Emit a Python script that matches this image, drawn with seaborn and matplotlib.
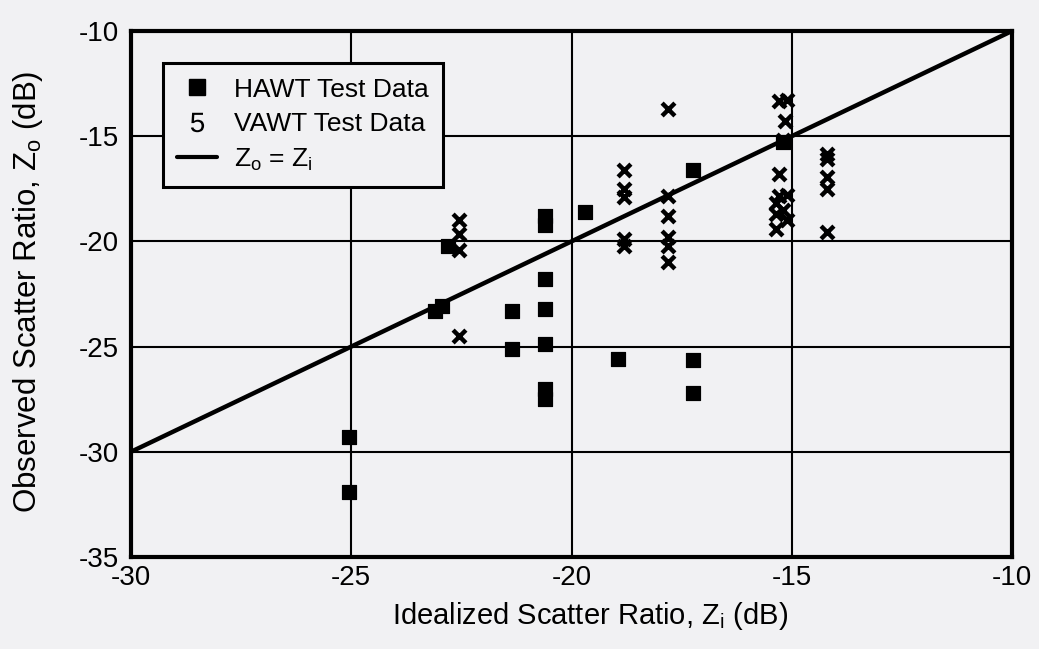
import matplotlib
matplotlib.use("Agg")
import matplotlib.pyplot as plt
from matplotlib.lines import Line2D
import seaborn as sns
import pandas as pd

# HAWT test data (idealized Zi, observed Zo) in dB
hawt_zi = [-22.8, -22.95, -23.1, -25.05, -25.05, -21.35, -21.35,
           -20.6, -20.6, -20.6, -20.6, -20.6, -20.6, -20.6,
           -19.7, -18.95, -17.25, -17.25, -17.25, -15.2]
hawt_zo = [-20.2, -23.05, -23.3, -29.3, -31.9, -23.3, -25.1,
           -18.8, -19.2, -21.8, -23.2, -24.9, -27.0, -27.5,
           -18.6, -25.6, -16.6, -25.65, -27.2, -15.3]

# VAWT test data
vawt_zi = [-22.55, -22.55, -22.55, -22.55,
           -18.8, -18.8, -18.8, -18.8, -18.8,
           -17.8, -17.8, -17.8, -17.8, -17.8, -17.8,
           -15.3, -15.1, -15.15, -15.2, -15.3, -15.3, -15.1, -15.35, -15.2, -15.35, -15.1, -15.35,
           -14.2, -14.2, -14.2, -14.2, -14.2]
vawt_zo = [-19.0, -19.65, -20.4, -24.5,
           -16.6, -17.5, -17.9, -19.9, -20.2,
           -13.7, -17.85, -18.8, -19.8, -20.2, -21.0,
           -13.35, -13.3, -14.3, -15.2, -16.8, -17.85, -17.8, -18.2, -18.5, -18.7, -19.0, -19.4,
           -15.85, -16.1, -16.95, -17.5, -19.55]

# reference line Zo = Zi
line_zi = [-30, -10]
line_zo = [-30, -10]

x_ticks = [-30, -25, -20, -15, -10]
y_ticks = [-35, -30, -25, -20, -15, -10]

sns.set_style("white")
plt.rcParams["font.family"] = ["Liberation Sans", "DejaVu Sans"]
plt.rcParams["mathtext.fontset"] = "custom"
plt.rcParams["mathtext.rm"] = "Liberation Sans"
plt.rcParams["mathtext.it"] = "Liberation Sans"
plt.rcParams["axes.unicode_minus"] = False
plt.rcParams["text.color"] = "black"
plt.rcParams["axes.labelcolor"] = "black"

bg = "#f1f1f3"
fig = plt.figure(figsize=(10.39, 6.49), dpi=100, facecolor=bg)
ax = fig.add_axes([0.1261, 0.1418, 0.848, 0.8105])
ax.set_facecolor(bg)

hawt = pd.DataFrame({"zi": hawt_zi, "zo": hawt_zo})
vawt = pd.DataFrame({"zi": vawt_zi, "zo": vawt_zo})

sns.lineplot(x=line_zi, y=line_zo, color="black", linewidth=3.2, ax=ax, zorder=3)
sns.scatterplot(data=hawt, x="zi", y="zo", marker="s", s=115, color="black",
                edgecolor="black", ax=ax, zorder=4)
sns.scatterplot(data=vawt, x="zi", y="zo", marker="x", s=85, color="black",
                linewidth=3.2, ax=ax, zorder=4)

ax.set_xlim(-30, -10)
ax.set_ylim(-35, -10)
ax.set_xticks(x_ticks)
ax.set_yticks(y_ticks)
ax.grid(True, color="black", linewidth=1.5)
ax.set_axisbelow(True)
for s in ax.spines.values():
    s.set_color("black")
    s.set_linewidth(3)
ax.tick_params(axis="both", length=0, labelsize=20, colors="black")
ax.tick_params(axis="y", pad=9)
ax.tick_params(axis="x", pad=6)

ax.set_xlabel("Idealized Scatter Ratio, Z$_{\\rm i}$ (dB)", fontsize=21)
ax.set_ylabel("Observed Scatter Ratio, Z$_{\\rm o}$ (dB)", fontsize=22.5)
ax.xaxis.set_label_coords(0.521, -0.082)
ax.yaxis.set_label_coords(-0.098, 0.505)

handles = [
    Line2D([], [], marker="s", color="black", linestyle="none", markersize=12),
    Line2D([], [], marker="$5$", color="black", linestyle="none", markersize=14,
           markeredgewidth=0),
    Line2D([], [], color="black", linewidth=3),
]
labels = ["HAWT Test Data", "VAWT Test Data", "Z$_{\\rm o}$ = Z$_{\\rm i}$"]
leg = ax.legend(handles, labels, loc="upper left", bbox_to_anchor=(0.036, 0.939),
                borderaxespad=0, fontsize=19, frameon=True, fancybox=False,
                facecolor=bg, edgecolor="black", framealpha=1, labelcolor="black",
                handlelength=1.5, handletextpad=0.65, labelspacing=0.4,
                borderpad=0.55)
leg.get_frame().set_linewidth(2.2)

fig.savefig("out.png", dpi=100, facecolor=bg)
